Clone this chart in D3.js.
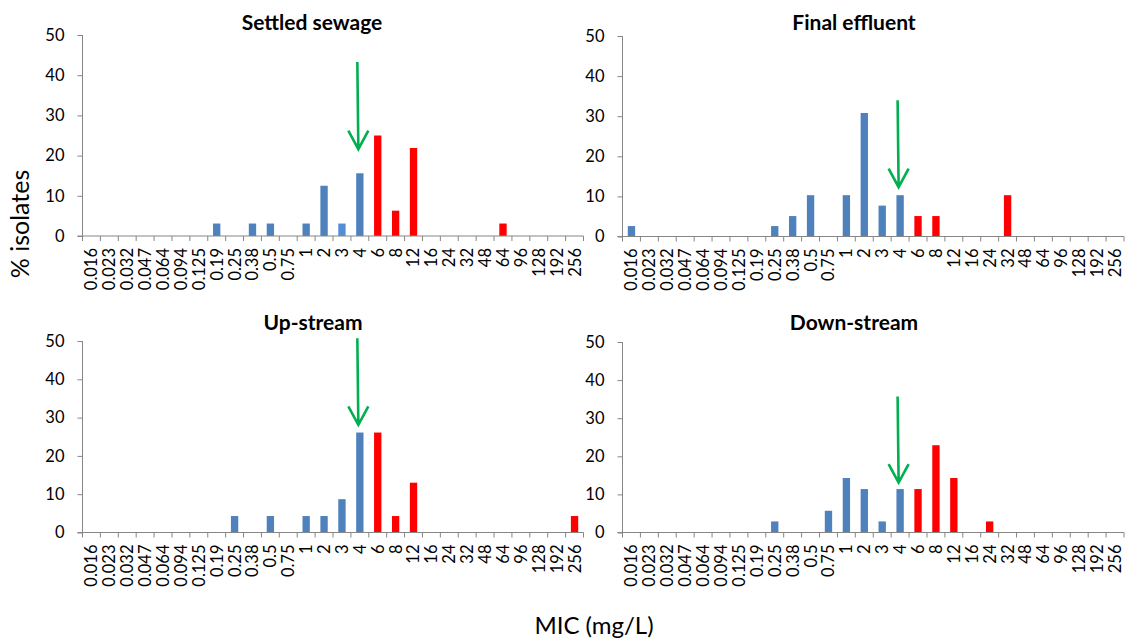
<!DOCTYPE html>
<html>
<head>
<meta charset="utf-8">
<script src="https://cdn.jsdelivr.net/npm/d3@7"></script>
<style>
  html, body { margin: 0; padding: 0; background: #fff; }
  svg { display: block; }
</style>
</head>
<body>
<svg id="chart" width="1127" height="643"></svg>
<script>
// ---------- DATA ----------
const categories = ["0.016","0.023","0.032","0.047","0.064","0.094","0.125","0.19","0.25","0.38","0.5","0.75","1","2","3","4","6","8","12","16","24","32","48","64","96","128","192","256"];
const breakpoint = "4";   // bars above this MIC are drawn in red
const yTicks = [0, 10, 20, 30, 40, 50];
const panelTitles = ["Settled sewage", "Final effluent", "Up-stream", "Down-stream"];

//                      0.016 .023 .032 .047 .064 .094 .125 0.19 0.25 0.38 0.5  0.75 1    2     3    4     6     8     12    16 24   32    48 64  96 128 192 256
const settledSewage  = [0,    0,   0,   0,   0,   0,   0,   3.1, 0,   3.1, 3.1, 0,   3.1, 12.5, 3.1, 15.6, 25.0, 6.3,  21.9, 0, 0,   0,    0, 3.1, 0, 0, 0, 0];
const finalEffluent  = [2.6,  0,   0,   0,   0,   0,   0,   0,   2.6, 5.1, 10.3, 0,  10.3, 30.8, 7.7, 10.3, 5.1,  5.1,  0,    0, 0,   10.3, 0, 0,   0, 0, 0, 0];
const upStream       = [0,    0,   0,   0,   0,   0,   0,   0,   4.3, 0,   4.3, 0,   4.3, 4.3,  8.7, 26.1, 26.1, 4.3,  13.0, 0, 0,   0,    0, 0,   0, 0, 0, 4.3];
const downStream     = [0,    0,   0,   0,   0,   0,   0,   0,   2.9, 0,   0,   5.7, 14.3, 11.4, 2.9, 11.4, 11.4, 22.9, 14.3, 0, 2.9, 0,    0, 0,   0, 0, 0, 0];

// green arrow annotations: [start value, tip value] at the breakpoint category
const settledArrow  = [43.3, 21.6];
const effluentArrow = [34.0, 12.3];
const upArrow       = [50.7, 28.1];
const downArrow     = [35.7, 13.1];

const xTitle = "MIC (mg/L)";
const yTitle = "% isolates";

// ---------- LAYOUT / STYLE ----------
const BLUE = "#4F81BD", BLUE_LIGHT = "#558ED5", RED = "#FF0000", GREEN = "#00B050", AXIS = "#868686";
const layouts = [
  { x0: 82.5,  x1: 583.5, yTop: 35,  yBot: 236,   titleX: 312, titleY: 30 },
  { x0: 622.5, x1: 1124,  yTop: 36,  yBot: 236.5, titleX: 854, titleY: 30 },
  { x0: 82.5,  x1: 583.5, yTop: 341, yBot: 532.5, titleX: 313, titleY: 330 },
  { x0: 622.5, x1: 1124,  yTop: 342, yBot: 532.5, titleX: 854, titleY: 330 }
];
const barColorOverride = { "0|3": BLUE_LIGHT };

const seriesList = [settledSewage, finalEffluent, upStream, downStream];
const arrowList = [settledArrow, effluentArrow, upArrow, downArrow];

const svg = d3.select("#chart");
const bpIndex = categories.indexOf(breakpoint);

seriesList.forEach((values, p) => {
  const L = layouts[p];
  const g = svg.append("g");
  const x = d3.scaleBand().domain(categories).range([L.x0, L.x1]).paddingInner(0.59).paddingOuter(0.295);
  const y = d3.scaleLinear().domain([0, 50]).range([L.yBot, L.yTop]);
  const step = x.step();

  // bars
  g.selectAll("rect.bar").data(categories.map((c, i) => ({ c, i, v: values[i] })).filter(d => d.v > 0))
    .enter().append("rect")
    .attr("x", d => x(d.c))
    .attr("width", x.bandwidth())
    .attr("y", d => y(d.v))
    .attr("height", d => y(0) - y(d.v))
    .attr("fill", d => barColorOverride[p + "|" + d.c] || (d.i > bpIndex ? RED : BLUE));

  // y axis
  const yAxis = g.append("g").attr("transform", `translate(${L.x0},0)`)
    .call(d3.axisLeft(y).tickValues(yTicks).tickSize(5).tickPadding(13).tickFormat(d3.format("d")));
  yAxis.select(".domain").attr("stroke", AXIS).attr("d", `M0,${L.yTop}V${L.yBot}`);
  yAxis.selectAll(".tick line").attr("stroke", AXIS);
  yAxis.selectAll(".tick text").attr("font-family", "Lato").attr("font-size", 16.5).attr("fill", "#000");

  // x axis (labels at category centres)
  const xAxis = g.append("g").attr("transform", `translate(0,${L.yBot})`)
    .call(d3.axisBottom(x).tickSize(0));
  xAxis.select(".domain").attr("stroke", AXIS).attr("d", `M${L.x0 - 5},0H${L.x1}`);
  xAxis.selectAll(".tick text")
    .attr("font-family", "Lato").attr("font-size", 16.5).attr("fill", "#000")
    .attr("transform", "rotate(-90)")
    .attr("text-anchor", "end")
    .attr("x", -12).attr("y", 0).attr("dy", "0.36em");

  // boundary tick marks between categories
  const bounds = categories.map(c => x(c) + x.bandwidth() / 2 - step / 2).concat([L.x1]);
  g.selectAll("line.bt").data(bounds).enter().append("line")
    .attr("x1", d => d).attr("x2", d => d)
    .attr("y1", L.yBot).attr("y2", L.yBot + 5)
    .attr("stroke", AXIS).attr("stroke-width", 1);

  // title
  g.append("text").attr("x", L.titleX).attr("y", L.titleY)
    .attr("text-anchor", "middle").attr("font-family", "Lato").attr("font-weight", "bold")
    .attr("font-size", 21).attr("fill", "#000").text(panelTitles[p]);

  // arrow
  const a = arrowList[p];
  const ax = x(breakpoint) + x.bandwidth() / 2 - 1.5;
  const yS = y(a[0]), yT = y(a[1]);
  g.append("path")
    .attr("d", `M${ax - 1},${yS}L${ax},${yT}M${ax - 10},${yT - 18.5}L${ax},${yT}L${ax + 10},${yT - 18.5}`)
    .attr("fill", "none").attr("stroke", GREEN).attr("stroke-width", 2.6);
});

// axis titles
svg.append("text")
  .attr("transform", "translate(29,224) rotate(-90)")
  .attr("text-anchor", "middle").attr("font-family", "Lato").attr("font-size", 25).attr("fill", "#000")
  .text(yTitle);
svg.append("text")
  .attr("x", 594).attr("y", 634)
  .attr("text-anchor", "middle").attr("font-family", "Lato").attr("font-size", 24).attr("fill", "#000")
  .text(xTitle);
</script>
</body>
</html>
